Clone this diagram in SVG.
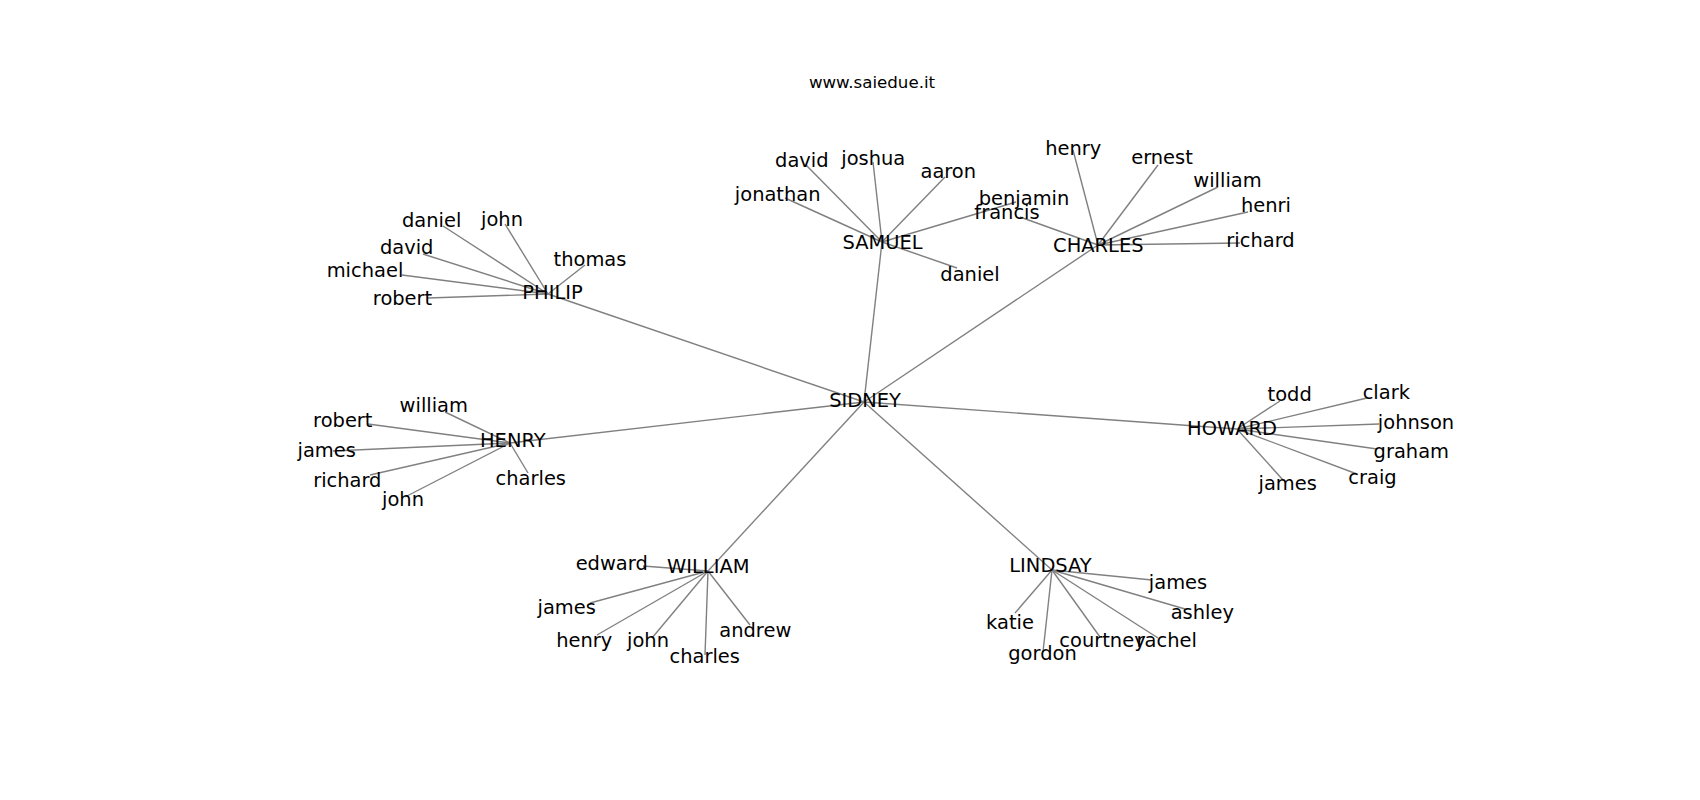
<svg xmlns="http://www.w3.org/2000/svg" width="1700" height="800" viewBox="0 0 1700 800">
<style>
.e{stroke:#808080;stroke-width:1.4;fill:none}
text{font-family:"DejaVu Sans","Liberation Sans",sans-serif;font-size:19.44px;fill:#000;text-anchor:middle}
.t{font-size:16.67px}
</style>
<rect width="1700" height="800" fill="#fff"/>
<g id="edges">
<line class="e" x1="864" y1="402" x2="548" y2="294"/>
<line class="e" x1="864" y1="402" x2="882" y2="242"/>
<line class="e" x1="864" y1="402" x2="1098" y2="245"/>
<line class="e" x1="864" y1="402" x2="510" y2="443"/>
<line class="e" x1="864" y1="402" x2="1237" y2="429"/>
<line class="e" x1="864" y1="402" x2="708" y2="571"/>
<line class="e" x1="864" y1="402" x2="1052" y2="570"/>
<line class="e" x1="882" y1="242" x2="785" y2="198"/>
<line class="e" x1="882" y1="242" x2="806" y2="165"/>
<line class="e" x1="882" y1="242" x2="873" y2="162"/>
<line class="e" x1="882" y1="242" x2="945" y2="177"/>
<line class="e" x1="882" y1="242" x2="1016" y2="202"/>
<line class="e" x1="882" y1="242" x2="957" y2="268"/>
<line class="e" x1="1098" y1="245" x2="1020" y2="217"/>
<line class="e" x1="1098" y1="245" x2="1073" y2="150"/>
<line class="e" x1="1098" y1="245" x2="1158" y2="165"/>
<line class="e" x1="1098" y1="245" x2="1218" y2="187"/>
<line class="e" x1="1098" y1="245" x2="1248" y2="212"/>
<line class="e" x1="1098" y1="245" x2="1240" y2="243"/>
<line class="e" x1="548" y1="294" x2="443" y2="226"/>
<line class="e" x1="548" y1="294" x2="505" y2="224"/>
<line class="e" x1="548" y1="294" x2="423" y2="254"/>
<line class="e" x1="548" y1="294" x2="402" y2="275"/>
<line class="e" x1="548" y1="294" x2="428" y2="298"/>
<line class="e" x1="548" y1="294" x2="585" y2="265"/>
<line class="e" x1="510" y1="443" x2="445" y2="412"/>
<line class="e" x1="510" y1="443" x2="368" y2="424"/>
<line class="e" x1="510" y1="443" x2="333" y2="451"/>
<line class="e" x1="510" y1="443" x2="370" y2="475"/>
<line class="e" x1="510" y1="443" x2="405" y2="497"/>
<line class="e" x1="510" y1="443" x2="528" y2="473"/>
<line class="e" x1="1237" y1="429" x2="1280" y2="401"/>
<line class="e" x1="1237" y1="429" x2="1367" y2="398"/>
<line class="e" x1="1237" y1="429" x2="1379" y2="424"/>
<line class="e" x1="1237" y1="429" x2="1377" y2="449"/>
<line class="e" x1="1237" y1="429" x2="1357" y2="474"/>
<line class="e" x1="1237" y1="429" x2="1283" y2="480"/>
<line class="e" x1="708" y1="571" x2="643" y2="566"/>
<line class="e" x1="708" y1="571" x2="590" y2="603"/>
<line class="e" x1="708" y1="571" x2="597" y2="635"/>
<line class="e" x1="708" y1="571" x2="652" y2="638"/>
<line class="e" x1="708" y1="571" x2="705" y2="655"/>
<line class="e" x1="708" y1="571" x2="750" y2="625"/>
<line class="e" x1="1052" y1="570" x2="1152" y2="580"/>
<line class="e" x1="1052" y1="570" x2="1185" y2="609"/>
<line class="e" x1="1052" y1="570" x2="1158" y2="638"/>
<line class="e" x1="1052" y1="570" x2="1100" y2="637"/>
<line class="e" x1="1052" y1="570" x2="1043" y2="652"/>
<line class="e" x1="1052" y1="570" x2="1015" y2="613"/>
</g>
<text class="t" x="872" y="87.5">www.saiedue.it</text>
<g id="SIDNEY"><text x="865" y="407">SIDNEY</text></g>
<g id="SAMUEL"><text x="882.5" y="249">SAMUEL</text></g>
<g id="CHARLES"><text x="1098.3" y="251.7">CHARLES</text></g>
<g id="PHILIP"><text x="552.5" y="299.3">PHILIP</text></g>
<g id="HENRY"><text x="512.8" y="447.3">HENRY</text></g>
<g id="HOWARD"><text x="1232" y="435">HOWARD</text></g>
<g id="WILLIAM"><text x="708.3" y="573.3">WILLIAM</text></g>
<g id="LINDSAY"><text x="1050.5" y="571.7">LINDSAY</text></g>
<g id="samuel-jonathan"><text x="777.7" y="201">jonathan</text></g>
<g id="samuel-david"><text x="801.8" y="166.7">david</text></g>
<g id="samuel-joshua"><text x="873.3" y="165">joshua</text></g>
<g id="samuel-aaron"><text x="948.3" y="178.3">aaron</text></g>
<g id="samuel-benjamin"><text x="1024" y="205">benjamin</text></g>
<g id="charles-francis"><text x="1007" y="219">francis</text></g>
<g id="samuel-daniel"><text x="970" y="280.7">daniel</text></g>
<g id="charles-henry"><text x="1073.3" y="155">henry</text></g>
<g id="charles-ernest"><text x="1162" y="164.3">ernest</text></g>
<g id="charles-william"><text x="1227.5" y="186.7">william</text></g>
<g id="charles-henri"><text x="1266" y="212.3">henri</text></g>
<g id="charles-richard"><text x="1260.5" y="247.3">richard</text></g>
<g id="philip-daniel"><text x="431.7" y="226.7">daniel</text></g>
<g id="philip-john"><text x="502" y="225.7">john</text></g>
<g id="philip-david"><text x="406.7" y="254.3">david</text></g>
<g id="philip-michael"><text x="365" y="276.7">michael</text></g>
<g id="philip-robert"><text x="402.5" y="305">robert</text></g>
<g id="philip-thomas"><text x="590" y="266">thomas</text></g>
<g id="henry-william"><text x="433.8" y="411.7">william</text></g>
<g id="henry-robert"><text x="342.8" y="426.7">robert</text></g>
<g id="henry-james"><text x="326.7" y="457.3">james</text></g>
<g id="henry-richard"><text x="347.3" y="486.7">richard</text></g>
<g id="henry-john"><text x="403" y="505.7">john</text></g>
<g id="henry-charles"><text x="530.8" y="485">charles</text></g>
<g id="howard-todd"><text x="1289.7" y="401">todd</text></g>
<g id="howard-clark"><text x="1386.3" y="399">clark</text></g>
<g id="howard-johnson"><text x="1416" y="429">johnson</text></g>
<g id="howard-graham"><text x="1411.3" y="458.3">graham</text></g>
<g id="howard-craig"><text x="1372.5" y="484.3">craig</text></g>
<g id="howard-james"><text x="1287.7" y="490">james</text></g>
<g id="william-edward"><text x="611.7" y="570">edward</text></g>
<g id="william-james"><text x="566.7" y="614">james</text></g>
<g id="william-henry"><text x="584.2" y="646.7">henry</text></g>
<g id="william-john"><text x="648" y="647.3">john</text></g>
<g id="william-charles"><text x="704.7" y="663.3">charles</text></g>
<g id="william-andrew"><text x="755.3" y="637.3">andrew</text></g>
<g id="lindsay-james"><text x="1178" y="589.3">james</text></g>
<g id="lindsay-ashley"><text x="1202.3" y="619">ashley</text></g>
<g id="lindsay-rachel"><text x="1166.7" y="646.7">rachel</text></g>
<g id="lindsay-courtney"><text x="1102.5" y="646.7">courtney</text></g>
<g id="lindsay-gordon"><text x="1042.5" y="660">gordon</text></g>
<g id="lindsay-katie"><text x="1010" y="629.3">katie</text></g>
</svg>
